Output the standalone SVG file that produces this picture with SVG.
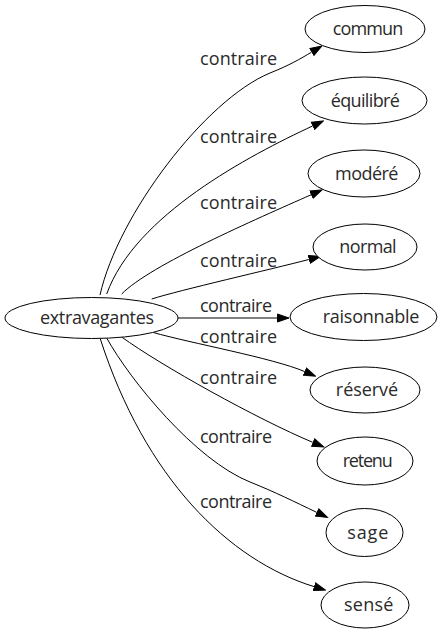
<svg xmlns="http://www.w3.org/2000/svg" width="444" height="635" viewBox="0 0 444 635">
<style>
  .node ellipse { fill: #ffffff; stroke: #000000; stroke-width: 1; }
  text { font-family: "Open Sans", "DejaVu Sans", sans-serif; font-size: 18px; fill: #2a2a2a; text-anchor: middle; }
  .edges path { fill: none; stroke: #000000; stroke-width: 1; marker-end: url(#arrow); }
</style>
<defs>
  <marker id="arrow" markerUnits="userSpaceOnUse" markerWidth="13" markerHeight="10" refX="0" refY="4.5" orient="auto" viewBox="0 0 13 9">
    <path d="M0.5,0.5 L12,4.5 L0.5,8.5 z" fill="#000000" stroke="#000000" stroke-width="1"/>
  </marker>
</defs>
<rect width="444" height="635" fill="#ffffff"/>
<g class="edges" id="edges">
  <path d="M100,295 C118,215 205,100 270,73 C290,65 300,59 311.5,52.2"/>
  <path d="M106.7,294 C135,215 249.6,155.4 312.5,126"/>
  <path d="M121.7,294 C150,265 256.8,218.9 311,194.8"/>
  <path d="M151.7,299 C180,290 270,269.6 308.8,259.5"/>
  <path d="M178,318 L277,318"/>
  <path d="M153.3,332.5 C190,343 272.8,358 304.5,371.5"/>
  <path d="M121.7,337 C160,365 257.8,419.4 312.7,442.3"/>
  <path d="M106.7,338 C130,380 195,460 250,482 C275,492 295,502 316.6,512.3"/>
  <path d="M100,338 C145,478 228.5,560.3 314,586.6"/>
  <text x="238.5" y="65" textLength="77">contraire</text>
  <text x="238.5" y="143" textLength="77">contraire</text>
  <text x="238.5" y="209" textLength="77">contraire</text>
  <text x="238.5" y="267" textLength="77">contraire</text>
  <text x="236" y="311.5" textLength="72">contraire</text>
  <text x="238.5" y="343" textLength="77">contraire</text>
  <text x="238.5" y="384" textLength="77">contraire</text>
  <text x="236" y="443" textLength="72">contraire</text>
  <text x="236" y="508" textLength="72">contraire</text>
</g>
<g class="node" id="extravagantes">
  <ellipse cx="91.5" cy="318" rx="86.5" ry="20.5"/>
  <text x="97" y="323.5" textLength="114">extravagantes</text>
</g>
<g class="node" id="commun">
  <ellipse cx="365" cy="29" rx="60" ry="23.5"/>
  <text x="368" y="35" textLength="70.7">commun</text>
</g>
<g class="node" id="equilibre">
  <ellipse cx="364.5" cy="100.5" rx="62.5" ry="23.5"/>
  <text x="365.3" y="106.5" textLength="69.3">équilibré</text>
</g>
<g class="node" id="modere">
  <ellipse cx="364" cy="173.5" rx="56" ry="23.5"/>
  <text x="366.7" y="179.5" textLength="63.3">modéré</text>
</g>
<g class="node" id="normal">
  <ellipse cx="365" cy="247" rx="52" ry="23"/>
  <text x="368" y="252.5" textLength="57.3">normal</text>
</g>
<g class="node" id="raisonnable">
  <ellipse cx="363.5" cy="317" rx="73.5" ry="23.5"/>
  <text x="371" y="322.5" textLength="96.7">raisonnable</text>
</g>
<g class="node" id="reserve">
  <ellipse cx="365" cy="390" rx="55" ry="23"/>
  <text x="367" y="396" textLength="62.3">réservé</text>
</g>
<g class="node" id="retenu">
  <ellipse cx="365" cy="461" rx="48" ry="24"/>
  <text x="367.7" y="467" textLength="50">retenu</text>
</g>
<g class="node" id="sage">
  <ellipse cx="364.5" cy="532.5" rx="38.5" ry="24"/>
  <text x="367.8" y="538.5" textLength="41">sage</text>
</g>
<g class="node" id="sense">
  <ellipse cx="365" cy="605" rx="44" ry="23"/>
  <text x="368.7" y="611" textLength="49.3">sensé</text>
</g>
</svg>
